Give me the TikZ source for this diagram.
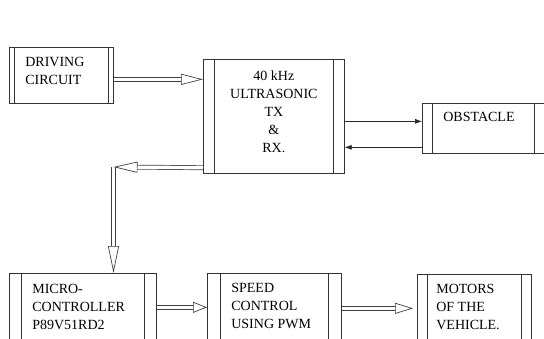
\documentclass[tikz,border=0pt]{standalone}
\usepackage{fontspec}
\setmainfont{Liberation Serif}
\usetikzlibrary{arrows.meta,positioning}

\tikzset{
  procbox/.style={draw=black!80, anchor=north west, inner sep=0pt,
    path picture={\draw[black!80] ([xshift=#1]path picture bounding box.north west) -- ([xshift=#1]path picture bounding box.south west)
      ([xshift=-#1]path picture bounding box.north east) -- ([xshift=-#1]path picture bounding box.south east);}},
  procbox/.default=11pt,
  boxtext/.style={font=\fontsize{14}{18}\selectfont, inner sep=0pt, align=left},
  dblshaft/.style={draw=black!75, double=white, double distance=3.4pt, shorten >=12pt},
  dblhead/.style={white, -{Triangle[length=#1, width=11pt, color=black!75, fill=white]}},
  dblhead/.default=22pt,
  thinarrow/.style={draw=black!85, line width=0.6pt, -{Latex[length=7pt, width=5pt]}},
}

\begin{document}
\begin{tikzpicture}[x=1pt, y=-1pt, line width=0.7pt]
    \clip (0,0) rectangle (544,338);
    % blocks
    \node[procbox=5pt, minimum width=104pt, minimum height=56pt] (drv) at (9,47) {};
    \node[procbox, minimum width=141pt, minimum height=114pt] (ultra) at (203,59) {};
    \node[procbox=10pt, minimum width=122pt, minimum height=50pt] (obs) at (422,103) {};
    \node[procbox=12pt, minimum width=147pt, minimum height=80pt] (micro) at (9,273) {};
    \node[procbox=13pt, minimum width=134pt, minimum height=80pt] (speed) at (207,273) {};
    \node[procbox=10pt, minimum width=114pt, minimum height=80pt] (motors) at (417,274) {};
    % texts
    \node[boxtext, below right=10pt and 16pt of drv.north west] (drv-t) {DRIVING\\CIRCUIT};
    \node[boxtext, align=center, below=11pt of ultra.north] (ultra-t) {40 kHz\\ULTRASONIC\\TX\\\&\\RX.};
    \node[boxtext, below right=9pt and 21pt of obs.north west] (obs-t) {OBSTACLE};
    \node[boxtext, below right=11pt and 23pt of micro.north west] (micro-t) {MICRO-\\CONTROLLER\\P89V51RD2};
    \node[boxtext, below right=10pt and 24pt of speed.north west] (speed-t) {SPEED\\CONTROL\\USING PWM};
    \node[boxtext, below right=10pt and 19pt of motors.north west] (motors-t) {MOTORS\\OF THE\\VEHICLE.};
    % end points of the hollow arrows
    \coordinate (a1) at ([yshift=-4pt]drv.east);
    \coordinate (b1) at (a1 -| ultra.west);
    \coordinate (a2) at ([yshift=6pt]ultra.south west);
    \coordinate (bend) at (113.5,167);
    \coordinate (b3) at (bend |- micro.north);
    \coordinate (a4) at ([yshift=6pt]micro.east);
    \coordinate (b4) at (a4 -| speed.west);
    \coordinate (a5) at ([yshift=5pt]speed.east);
    \coordinate[xshift=-4pt] (b5) at (a5 -| motors.west);
    \foreach \s/\t/\l in {a1/b1/22pt, bend/b3/27pt, a2/bend/24pt, a4/b4/14pt, a5/b5/18pt} {
        \draw[dblshaft] (\s) -- (\t);
        \draw[dblhead=\l] (\s) -- (\t);
    }
    % to and from the obstacle
    \coordinate (o1) at ([yshift=7pt]obs.west);
    \coordinate (o2) at ([yshift=-19pt]obs.west);
    \draw[thinarrow] (o1 -| ultra.east) -- (o1);
    \draw[thinarrow] (o2) -- (o2 -| ultra.east);
\end{tikzpicture}
\end{document}
